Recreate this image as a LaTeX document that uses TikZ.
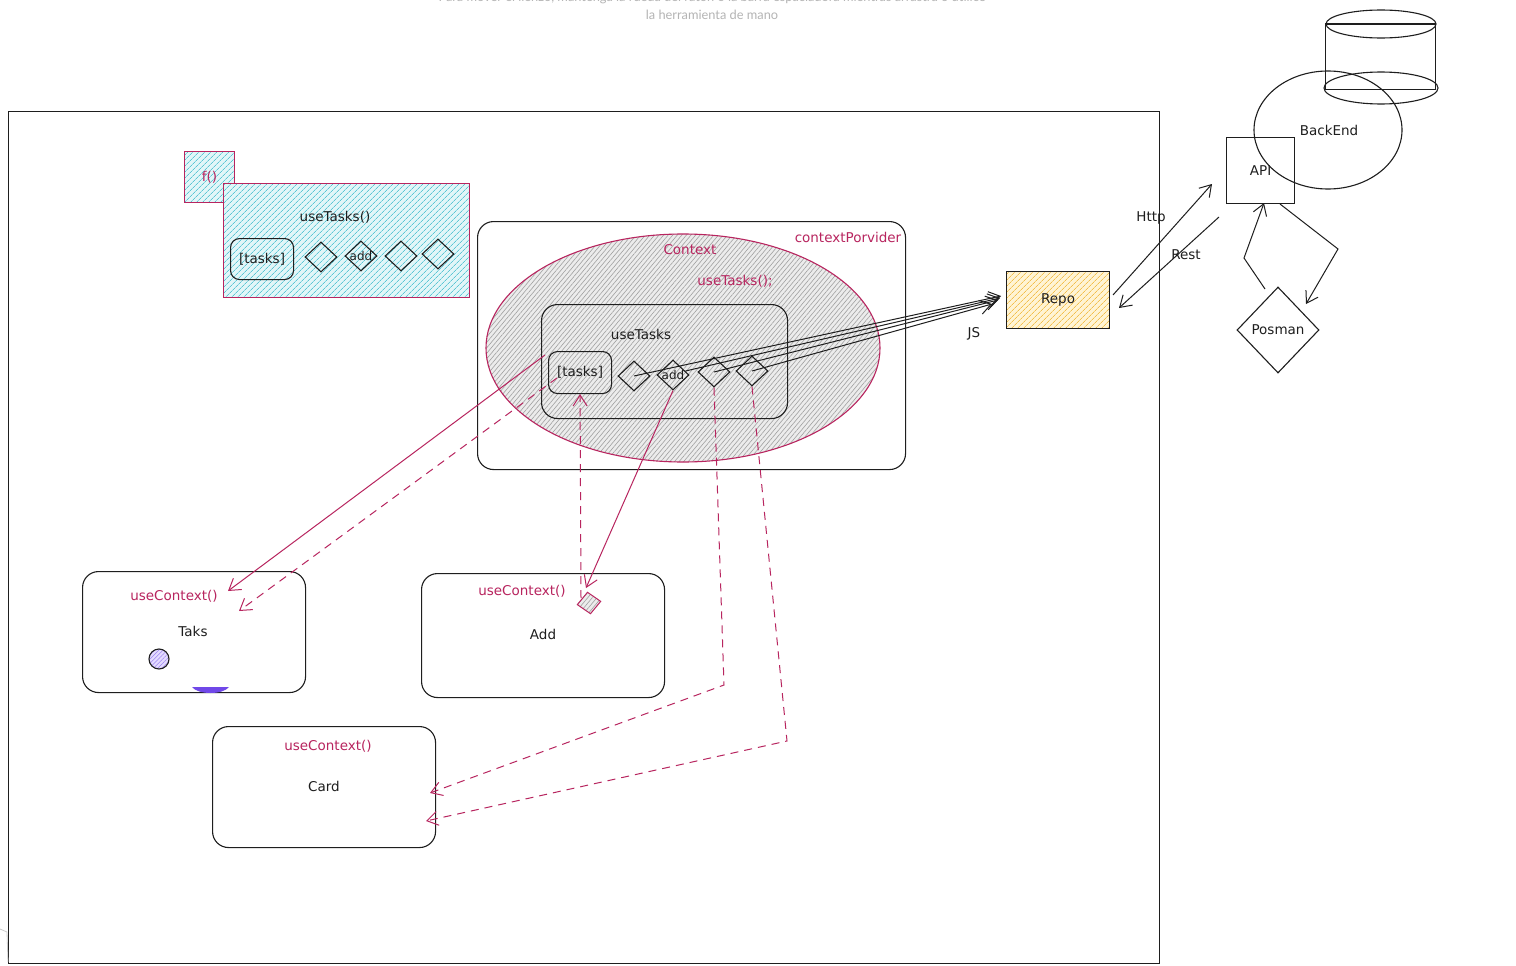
\documentclass[tikz,border=0pt]{standalone}
\usepackage{fontspec}
\setmainfont{DejaVu Sans}
\newfontfamily\hintfont{Lato}
\usetikzlibrary{arrows.meta,patterns.meta,shapes.geometric,calc}

\definecolor{ink}{HTML}{1E1E1E}
\definecolor{rose}{HTML}{B8255F}
\definecolor{cyanline}{HTML}{5CC6D4}
\definecolor{cyanbg}{HTML}{E2F6F8}
\definecolor{greyline}{HTML}{A0A0A0}
\definecolor{greybg}{HTML}{ECECEC}
\definecolor{yelline}{HTML}{F2BF4E}
\definecolor{yelbg}{HTML}{FFF4D4}
\definecolor{violetfill}{HTML}{7048E8}
\definecolor{lavline}{HTML}{9C85F0}
\definecolor{lavbg}{HTML}{E4DBFF}
\definecolor{hint}{HTML}{B4B4B4}

\tikzset{
  x=1pt, y=-1pt,
  every node/.style={font=\fontsize{13.5}{16}\selectfont, text=ink},
  rosetext/.style={text=rose},
  boxshape/.style={rectangle, draw=ink, line width=1.1pt, inner sep=0pt, anchor=north west},
  roundbox/.style={boxshape, rounded corners=16pt},
  gem/.style={diamond, draw=ink, line width=1.1pt, inner sep=0pt, minimum width=32pt, minimum height=30pt},
  gemtext/.style={font=\fontsize{12}{14}\selectfont},
  hatchcyan/.style={preaction={fill=cyanbg}, pattern={Lines[angle=45,distance=4pt,line width=0.8pt]}, pattern color=cyanline},
  hatchgrey/.style={preaction={fill=greybg}, pattern={Lines[angle=50,distance=3.5pt,line width=0.6pt]}, pattern color=greyline},
  hatchyellow/.style={preaction={fill=yelbg}, pattern={Lines[angle=45,distance=4pt,line width=0.8pt]}, pattern color=yelline},
  hatchlav/.style={preaction={fill=lavbg}, pattern={Lines[angle=45,distance=3pt,line width=0.6pt]}, pattern color=lavline},
  tip/.style={-{Straight Barb[length=11pt,width=14pt]}},
  link/.style={tip, draw=ink, line width=1pt},
  roselink/.style={tip, draw=rose, line width=1pt},
  rosedash/.style={roselink, dash pattern=on 8pt off 6pt},
  hinttext/.style={font=\hintfont\fontsize{12.8}{15}\selectfont, text=hint},
}

\begin{document}
\begin{tikzpicture}
\useasboundingbox (0,0) rectangle (1516,966);
\fill[white] (0,0) rectangle (1516,966);

% canvas hint above the drawing
\node[hinttext] (hint1) at (712,-2)
  {Para mover el lienzo, mantenga la rueda del ratón o la barra espaciadora mientras arrastra o utilice};
\node[hinttext] (hint2) at (712,15) {la herramienta de mano};

% application frame
\node[boxshape, minimum width=1151pt, minimum height=852pt] (app) at (8,111) {};
\draw[hint!70, line width=0.8pt] (0,929) -- (7,932) -- (8,962);

% standalone hook sketch
\node[boxshape, draw=rose, hatchcyan, minimum width=50pt, minimum height=51pt] (fbox) at (184,151) {};
\node[rosetext] (flabel) at (fbox.center) {f()};
\node[boxshape, draw=rose, hatchcyan, minimum width=246pt, minimum height=114pt] (hook) at (223,183) {};
\node (hooklabel) at (335,217) {useTasks()};
\node[roundbox, rounded corners=9pt, minimum width=63pt, minimum height=41pt] (htasks) at (230,238) {};
\node (htaskslabel) at (htasks.center) {[tasks]};
\node[gem] (h1) at (321,257) {};
\node[gem, label={[gemtext]center:add}] (h2) at (361,256) {};
\node[gem] (h3) at (401,256) {};
\node[gem] (h4) at (438,254) {};

% context provider
\node[roundbox, minimum width=428pt, minimum height=248pt] (prov) at (477,221) {};
\node[rosetext] (provlabel) at (848,237) {contextPorvider};
\node[ellipse, draw=rose, line width=1.1pt, hatchgrey, minimum width=394pt, minimum height=228pt] (ctx) at (683,348) {};
\node[rosetext] (ctxlabel) at (690,250) {Context};
\node[rosetext] (calllabel) at (735,281) {useTasks();};
\node[roundbox, minimum width=246pt, minimum height=114pt] (inner) at (541,304) {};
\node (innerlabel) at (641,334) {useTasks};
\node[roundbox, rounded corners=9pt, minimum width=63pt, minimum height=42pt] (tin) at (548,351) {};
\node (tinlabel) at (tin.center) {[tasks]};
\node[gem] (d1) at (634,376) {};
\node[gem, label={[gemtext]center:add}] (d2) at (673,375) {};
\node[gem] (d3) at (714,372) {};
\node[gem] (d4) at (752,371) {};

% repository
\node[boxshape, hatchyellow, minimum width=103pt, minimum height=57pt] (repo) at (1006,271) {};
\node (repolabel) at (repo.center) {Repo};
\node (jslabel) at (974,334) {JS};
\coordinate (j1) at (1001,296);
\coordinate (j2) at (1000,298);
\coordinate (j3) at (998,300);
\coordinate (j4) at (992,304);
\draw[link] (d1.center) -- (j1);
\draw[link] ($(d2.east)+(-4,-4)$) -- (j2);
\draw[link] (d3.center) -- (j3);
\draw[link] (d4.center) -- (j4);

% backend side
\node[ellipse, draw=ink, line width=1.1pt, minimum width=148pt, minimum height=118pt] (backend) at (1328,130) {};
\node (backlabel) at (1329,130) {BackEnd};
\node[boxshape, fill=none, minimum width=68pt, minimum height=66pt] (api) at (1226,137) {};
\node (apilabel) at (api.center) {API};
\node[ellipse, draw=ink, line width=1.1pt, minimum width=114pt, minimum height=32pt] (dbbottom) at (1381,88) {};
\node[boxshape, minimum width=110pt, minimum height=65pt] (dbbody) at (1325,24) {};
\node[ellipse, draw=ink, line width=1.1pt, fill=white, minimum width=110pt, minimum height=28pt] (dbtop) at (1381,24) {};
\draw[ink, line width=1.1pt] (dbbody.north west) -- (dbbody.north east);
\node[diamond, draw=ink, line width=1.1pt, inner sep=0pt, minimum width=82pt, minimum height=86pt] (posman) at (1278,330) {};
\node (posmanlabel) at (posman.center) {Posman};

\coordinate (httpA) at (1113,295);
\coordinate (httpB) at (1212,184);
\coordinate (restA) at (1219,217);
\coordinate (restB) at (1119,308);
\draw[link] (httpA) -- (httpB);
\draw[link] (restA) -- (restB);
\node (httplabel) at (1151,218) {Http};
\node (restlabel) at (1186,255) {Rest};
\coordinate (pbend) at (1244,258);
\coordinate (abend) at (1338,249);
\draw[link] (1265,289) -- (pbend) -- (1264,203);
\draw[link] (1280,204) -- (abend) -- (1306,304);

% consumer components
\node[roundbox, minimum width=223pt, minimum height=121pt] (taks) at (82,571) {};
\node[rosetext] (takshook) at (174,596) {useContext()};
\node (takslabel) at (193,631) {Taks};
\node[circle, draw=ink, line width=1.1pt, hatchlav, minimum size=20pt, inner sep=0pt] (dot) at (159,659) {};
\fill[violetfill] (192,687) .. controls (198,695) and (223,695) .. (229,687) -- cycle;

\node[roundbox, minimum width=243pt, minimum height=124pt] (add) at (421,573) {};
\node[rosetext] (addhook) at (522,591) {useContext()};
\node (addlabel) at (543,634) {Add};
\node[diamond, draw=rose, line width=1pt, hatchgrey, inner sep=0pt, minimum width=24pt, minimum height=22pt, rotate=8] (mini) at (589,603) {};

\node[roundbox, minimum width=223pt, minimum height=121pt] (card) at (212,726) {};
\node[rosetext] (cardhook) at (328,746) {useContext()};
\node (cardlabel) at (324,786) {Card};

% context wiring
\coordinate (s1) at (545,355);
\coordinate (s2) at (557,378);
\coordinate (t1) at (228,591);
\coordinate (t2) at (239,611);
\draw[roselink] (s1) -- (t1);
\draw[rosedash] (s2) -- (t2);
\coordinate (up) at (581,598);
\draw[rosedash] (up) -- (tin.south);
\coordinate (t3) at (586,588);
\draw[roselink] (d2.south) -- (t3);
\coordinate (k3) at (724,685);
\coordinate (t4) at (430,793);
\draw[rosedash] (d3.south) -- (k3) -- (t4);
\coordinate (k4) at (787,741);
\coordinate (t5) at (426,821);
\draw[rosedash] (d4.south) -- (k4) -- (t5);
\end{tikzpicture}
\end{document}
